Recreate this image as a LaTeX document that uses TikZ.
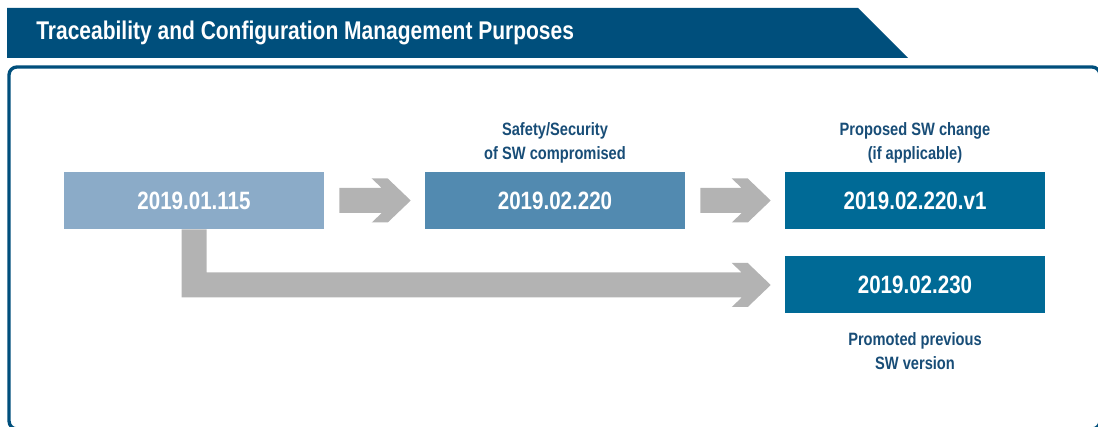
\documentclass[tikz,border=0pt]{standalone}
\usepackage{fontspec}
\setmainfont{Liberation Sans}[FakeStretch=0.82]
\usetikzlibrary{calc}

\definecolor{titleblue}{RGB}{0,79,124}
\definecolor{labelblue}{RGB}{24,77,119}
\definecolor{oldbox}{RGB}{139,171,200}
\definecolor{midbox}{RGB}{82,138,176}
\definecolor{newbox}{RGB}{0,106,150}
\definecolor{arrowgrey}{RGB}{179,179,179}

\tikzset{
  version/.style={minimum width=195pt,minimum height=42.75pt,inner sep=0pt,
    text=white,font=\bfseries\fontsize{18.8}{21}\selectfont},
  remark/.style={align=center,text=labelblue,
    font=\bfseries\fontsize{13.4}{18}\selectfont},
  greyarrow/.style={fill=arrowgrey}
}

\begin{document}
\begin{tikzpicture}[x=0.75pt,y=0.75pt,line join=miter]
  \useasboundingbox (0,0) rectangle (1098,427);
  % title banner and frame
  \fill[titleblue] (7,419) -- (858,419) -- (908,369) -- (7,369) -- cycle;
  \node[anchor=west,text=white,font=\bfseries\fontsize{19.2}{22}\selectfont,inner sep=0pt]
    (title) at (36,394) {Traceability and Configuration Management Purposes};
  \draw[titleblue,line width=2.5pt,rounded corners=6pt]
    (9,-2) rectangle (1100,360);
  % versions
  \node[version,fill=oldbox] (b1) at (194,226.5) {2019.01.115};
  \node[version,fill=midbox] (b2) at (555,226.5) {2019.02.220};
  \node[version,fill=newbox] (b3) at (915,226.5) {2019.02.220.v1};
  \node[version,fill=newbox] (b4) at (915,142) {2019.02.230};
  \node[remark] (r2) at (555,284.5) {Safety/Security\\of SW compromised};
  \node[remark] (r3) at (915,284.5) {Proposed SW change\\(if applicable)};
  \node[remark] (r4) at (915,75.5) {Promoted previous\\SW version};
  % block arrows
  \foreach \a/\b in {b1/b2,b2/b3}{
    \coordinate (s) at ($(\a.east)+(15,0)$);
    \coordinate (t) at ($(\b.west)+(-14,0)$);
    \fill[greyarrow] ($(s)+(0,12.5)$) -- ($(t)+(-29,12.5)$) -- ($(t)+(-39,22)$)
      -- ($(t)+(-23,22)$) -- (t) -- ($(t)+(-23,-22)$) -- ($(t)+(-39,-22)$)
      -- ($(t)+(-29,-12.5)$) -- ($(s)+(0,-12.5)$) -- cycle;
  }
  \coordinate (lt) at ($(b4.west)+(-14,0)$);
  \fill[greyarrow] ($(b1.south)+(-12.5,0)$) |- ($(lt)+(-29,-12.5)$)
    -- ($(lt)+(-39,-22)$) -- ($(lt)+(-23,-22)$) -- (lt) -- ($(lt)+(-23,22)$)
    -- ($(lt)+(-39,22)$) -- ($(lt)+(-29,12.5)$) -| ($(b1.south)+(12.5,0)$) -- cycle;
\end{tikzpicture}
\end{document}
